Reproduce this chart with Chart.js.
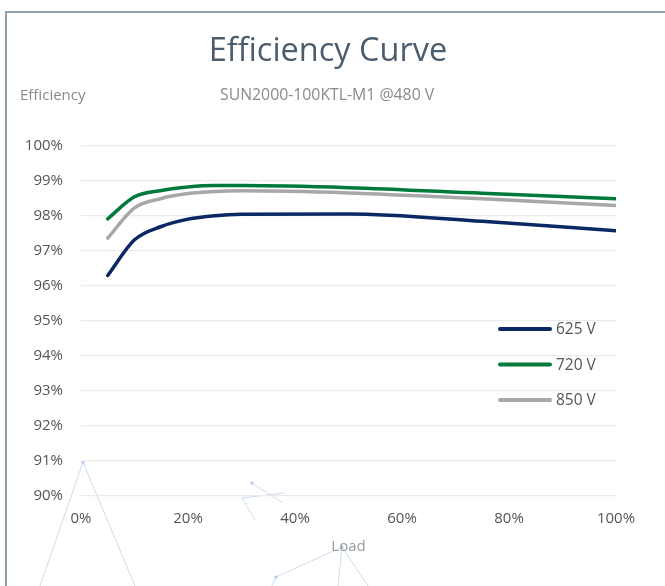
<!DOCTYPE html>
<html>
<head>
<meta charset="utf-8">
<script src="https://cdn.jsdelivr.net/npm/chart.js@4"></script>
<style>
  html, body { margin: 0; padding: 0; background: #fff; }
  body { width: 665px; height: 586px; position: relative; overflow: hidden; font-family: "Open Sans", sans-serif; }
  #frame { position: absolute; left: 5px; top: 11px; width: 700px; height: 640px; border-top: 2px solid #8ba1af; border-left: 2px solid #8ba1af; box-sizing: border-box; }
  #title { position: absolute; left: 0; width: 656px; top: 26px; text-align: center; font-size: 32.5px; color: #4b5c6c; line-height: 46px; }
  #ylab { position: absolute; left: 20px; top: 84px; font-size: 15px; color: #8a8a8a; line-height: 20px; }
  #sub { position: absolute; left: 220px; top: 84px; font-size: 15.8px; color: #8a8a8a; line-height: 20px; }
  #deco { position: absolute; left: 0; top: 0; }
  #wrap { position: absolute; left: 0; top: 0; width: 665px; height: 586px; }
</style>
</head>
<body>
<div id="frame"></div>
<canvas id="deco" width="665" height="586"></canvas>
<div id="title">Efficiency Curve</div>
<div id="ylab">Efficiency</div>
<div id="sub">SUN2000-100KTL-M1 @480 V</div>
<div id="wrap"><canvas id="c" width="665" height="586"></canvas></div>
<script>
// ---- data ----
const loadPct = [5, 10, 15, 20, 25, 30, 50, 75, 100];
const eff625 = [96.30, 97.32, 97.70, 97.91, 98.01, 98.05, 98.06, 97.85, 97.58];
const eff720 = [97.92, 98.55, 98.73, 98.83, 98.87, 98.87, 98.81, 98.65, 98.49];
const eff850 = [97.37, 98.23, 98.50, 98.64, 98.70, 98.72, 98.66, 98.49, 98.30];
const seriesNames = ['625 V', '720 V', '850 V'];
const seriesColors = ['#0a2863', '#007a3b', '#a7a7a7'];
const xTicks = [0, 20, 40, 60, 80, 100];
const yTicks = [90, 91, 92, 93, 94, 95, 96, 97, 98, 99, 100];

// ---- faint background decoration (particle-style lines) ----
(function () {
  const d = document.getElementById('deco').getContext('2d');
  d.strokeStyle = 'rgba(170,195,230,0.75)';
  d.fillStyle = 'rgba(170,195,230,0.9)';
  d.lineWidth = 0.8;
  const segs = [
    [83, 462, 40, 586], [83, 462, 135, 586],
    [252, 483, 283, 503], [242, 498, 255, 520], [242, 498, 284, 493],
    [342, 547, 276, 577], [276, 577, 272, 586], [342, 547, 338, 586], [342, 547, 368, 586]
  ];
  segs.forEach(s => { d.beginPath(); d.moveTo(s[0], s[1]); d.lineTo(s[2], s[3]); d.stroke(); });
  [[83, 462], [252, 483], [342, 547], [276, 577]].forEach(p => { d.beginPath(); d.arc(p[0], p[1], 1.6, 0, Math.PI * 2); d.fill(); });
})();

const toPts = arr => loadPct.map((x, i) => ({ x: x, y: arr[i] }));
const seriesData = [eff625, eff720, eff850];

const legendInside = {
  id: 'legendInside',
  afterDatasetsDraw(chart) {
    const ctx = chart.ctx;
    const ys = [329, 364.5, 400];
    chart.data.datasets.forEach((ds, i) => {
      ctx.save();
      ctx.strokeStyle = ds.borderColor;
      ctx.lineWidth = 4;
      ctx.lineCap = 'round';
      ctx.beginPath();
      ctx.moveTo(500, ys[i]);
      ctx.lineTo(550, ys[i]);
      ctx.stroke();
      ctx.fillStyle = '#555';
      ctx.font = '15.5px "Open Sans", sans-serif';
      ctx.textBaseline = 'middle';
      ctx.fillText(ds.label, 556, ys[i] + 1);
      ctx.restore();
    });
  }
};

new Chart(document.getElementById('c'), {
  type: 'line',
  data: {
    datasets: seriesNames.map((n, i) => ({
      label: n,
      data: toPts(seriesData[i]),
      borderColor: seriesColors[i],
      backgroundColor: seriesColors[i],
      borderWidth: 3.5,
      pointRadius: 0,
      cubicInterpolationMode: 'monotone',
      borderCapStyle: 'round',
      borderJoinStyle: 'round',
      fill: false
    }))
  },
  options: {
    responsive: false,
    animation: false,
    layout: { padding: { left: 0, right: 49, top: 146, bottom: 30 } },
    plugins: { legend: { display: false }, tooltip: { enabled: false }, title: { display: false } },
    scales: {
      x: {
        type: 'linear', min: 0, max: 100,
        afterBuildTicks: s => { s.ticks = xTicks.map(v => ({ value: v })); },
        afterFit: s => { s.height = 60; },
        border: { display: false },
        grid: { display: false, drawTicks: false },
        ticks: { padding: 14, color: '#555', font: { family: '"Open Sans", sans-serif', size: 15 }, callback: v => v + '%', maxRotation: 0 },
        title: { display: true, text: 'Load', color: '#999', padding: { top: 0, bottom: 0 }, font: { family: '"Open Sans", sans-serif', size: 15 } }
      },
      y: {
        type: 'linear', min: 90, max: 100,
        afterBuildTicks: s => { s.ticks = yTicks.map(v => ({ value: v })); },
        afterFit: s => { s.width = 81; },
        border: { display: false },
        grid: { color: '#ebebeb', lineWidth: 1.2, drawTicks: false },
        ticks: { padding: 18, color: '#555', font: { family: '"Open Sans", sans-serif', size: 15 }, callback: v => v + '%' }
      }
    }
  },
  plugins: [legendInside]
});
</script>
</body>
</html>
